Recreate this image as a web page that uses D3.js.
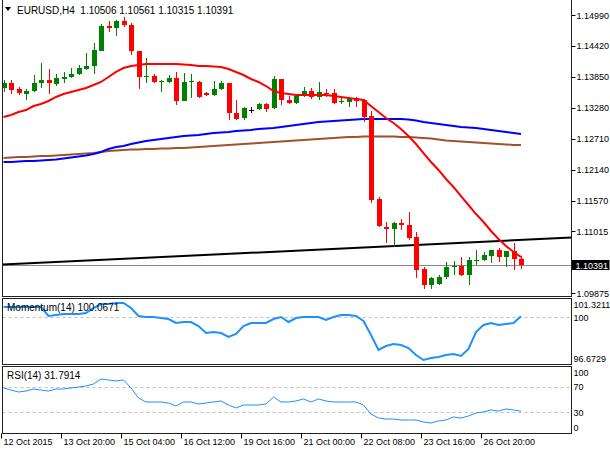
<!DOCTYPE html>
<html><head><meta charset="utf-8">
<script src="https://cdn.jsdelivr.net/npm/d3@7"></script>
<style>
body{margin:0;background:#fff;}
svg{display:block;}
text{font-family:"Liberation Sans",Arial,sans-serif;font-size:9px;fill:#000;}
text.hd{font-size:10px;}
</style>
</head><body><svg id="c" width="610" height="450"></svg>
<script>
// ---------- DATA ----------
const headerText = "EURUSD,H4  1.10506 1.10561 1.10315 1.10391";
const opens = [1.13647,1.13739,1.13629,1.13537,1.13592,1.13739,1.13794,1.13721,1.13813,1.13850,
1.13905,1.13997,1.14052,1.14328,1.14788,1.14751,1.14880,1.14806,1.14328,1.13850,
1.13868,1.13758,1.13758,1.13831,1.13408,1.13758,1.13758,1.13555,1.13518,1.13629,
1.13739,1.13187,1.13095,1.13242,1.13261,1.13353,1.13279,1.13813,1.13426,1.13371,
1.13518,1.13592,1.13482,1.13555,1.13555,1.13390,1.13390,1.13463,1.13426,1.13132,
1.11605,1.11090,1.11053,1.11164,1.11127,1.10906,1.10318,1.10023,1.10042,1.10170,
1.10354,1.10373,1.10207,1.10465,1.10483,1.10557,1.10667,1.10538,1.10649,1.10506];
const highs = [1.13794,1.13794,1.13666,1.13629,1.13886,1.14107,1.13997,1.13905,1.13942,1.14015,
1.14070,1.14291,1.14475,1.14825,1.14880,1.14898,1.14953,1.14843,1.14328,1.14199,
1.13905,1.13794,1.13886,1.13942,1.13923,1.13905,1.13776,1.13574,1.13776,1.13776,
1.13739,1.13426,1.13298,1.13298,1.13371,1.13371,1.13868,1.13813,1.13500,1.13518,
1.13666,1.13647,1.13758,1.13629,1.13629,1.13482,1.13482,1.13482,1.13445,1.13224,
1.11642,1.11182,1.11182,1.11237,1.11366,1.10998,1.10354,1.10170,1.10207,1.10446,
1.10465,1.10538,1.10538,1.10667,1.10630,1.10667,1.10704,1.10649,1.10796,1.10561];
const lows = [1.13574,1.13537,1.13518,1.13426,1.13574,1.13647,1.13537,1.13684,1.13739,1.13831,
1.13886,1.13978,1.13905,1.14328,1.14677,1.14604,1.14769,1.14254,1.13629,1.13739,
1.13739,1.13574,1.13739,1.13334,1.13408,1.13463,1.13463,1.13500,1.13500,1.13610,
1.13058,1.13058,1.13058,1.13187,1.13242,1.13206,1.13261,1.13334,1.13353,1.13353,
1.13482,1.13445,1.13426,1.13482,1.13353,1.13353,1.13298,1.13298,1.13022,1.11532,
1.11090,1.10796,1.10722,1.11035,1.10851,1.10152,1.09950,1.09950,1.10023,1.10134,
1.10207,1.10189,1.10023,1.10391,1.10465,1.10428,1.10446,1.10354,1.10299,1.10315];
const closes = [1.13739,1.13610,1.13555,1.13592,1.13739,1.13794,1.13739,1.13831,1.13850,1.13905,
1.14015,1.14052,1.14346,1.14788,1.14751,1.14880,1.14806,1.14328,1.13850,1.13868,
1.13758,1.13776,1.13831,1.13408,1.13758,1.13776,1.13482,1.13518,1.13629,1.13739,
1.13187,1.13077,1.13279,1.13242,1.13353,1.13261,1.13813,1.13426,1.13371,1.13500,
1.13592,1.13482,1.13574,1.13537,1.13371,1.13408,1.13445,1.13408,1.13114,1.11587,
1.11109,1.11053,1.11164,1.11127,1.10888,1.10299,1.10023,1.10152,1.10170,1.10354,
1.10373,1.10207,1.10483,1.10483,1.10575,1.10667,1.10538,1.10649,1.10501,1.10391];
const maRed = [1.13114,1.13150,1.13206,1.13242,1.13316,1.13353,1.13408,1.13482,1.13537,1.13574,
1.13610,1.13647,1.13702,1.13758,1.13850,1.13942,1.14015,1.14052,1.14070,1.14089,
1.14089,1.14089,1.14089,1.14089,1.14080,1.14070,1.14052,1.14052,1.14043,1.14034,
1.13997,1.13942,1.13886,1.13813,1.13758,1.13684,1.13592,1.13555,1.13537,1.13518,
1.13518,1.13518,1.13518,1.13518,1.13500,1.13482,1.13463,1.13445,1.13426,1.13316,
1.13206,1.13095,1.13003,1.12893,1.12764,1.12617,1.12451,1.12286,1.12139,1.11973,
1.11826,1.11660,1.11495,1.11329,1.11182,1.11017,1.10869,1.10741,1.10630,1.10538];
const maBlue = [1.12286,1.12286,1.12295,1.12304,1.12304,1.12313,1.12323,1.12332,1.12350,1.12369,
1.12387,1.12405,1.12433,1.12470,1.12525,1.12562,1.12580,1.12617,1.12645,1.12672,
1.12691,1.12709,1.12727,1.12746,1.12764,1.12773,1.12783,1.12801,1.12819,1.12829,
1.12838,1.12856,1.12865,1.12875,1.12893,1.12902,1.12911,1.12930,1.12948,1.12967,
1.12985,1.13003,1.13022,1.13031,1.13040,1.13049,1.13058,1.13067,1.13077,1.13077,
1.13077,1.13077,1.13077,1.13077,1.13067,1.13049,1.13022,1.13003,1.12985,1.12967,
1.12948,1.12930,1.12921,1.12911,1.12893,1.12875,1.12856,1.12838,1.12819,1.12801];
const maBrown = [1.12359,1.12369,1.12378,1.12378,1.12387,1.12396,1.12396,1.12405,1.12415,1.12424,
1.12433,1.12442,1.12451,1.12470,1.12488,1.12497,1.12507,1.12516,1.12516,1.12525,
1.12525,1.12534,1.12534,1.12543,1.12543,1.12553,1.12562,1.12571,1.12580,1.12589,
1.12599,1.12608,1.12617,1.12626,1.12635,1.12645,1.12654,1.12663,1.12672,1.12681,
1.12691,1.12700,1.12709,1.12718,1.12727,1.12737,1.12746,1.12746,1.12755,1.12755,
1.12755,1.12755,1.12755,1.12746,1.12746,1.12737,1.12727,1.12718,1.12700,1.12681,
1.12672,1.12663,1.12654,1.12645,1.12635,1.12626,1.12617,1.12608,1.12599,1.12599];
const momentum = [100.740,100.740,100.740,100.740,100.740,100.740,100.086,100.159,100.232,100.232,
100.232,100.304,100.667,100.958,100.958,101.031,101.031,100.667,100.086,100.014,
100.014,99.941,99.869,99.578,99.651,99.651,99.360,98.852,98.924,98.852,
98.561,98.779,99.360,99.578,99.578,99.578,99.869,100.014,99.651,99.941,
100.014,100.014,100.014,99.796,100.014,100.159,100.159,100.086,99.723,98.706,
97.617,97.908,98.053,97.980,97.762,97.254,96.891,97.036,97.109,97.254,
97.327,97.181,97.690,98.924,99.433,99.578,99.433,99.505,99.578,100.0671];
const rsi = [68.0,64.8,61.7,63.3,66.4,64.8,63.3,66.4,66.4,68.0,
69.5,71.1,74.2,82.0,80.5,78.9,80.5,68.0,52.3,46.1,
46.1,46.1,44.5,39.8,46.1,46.1,43.0,44.5,46.1,47.7,
41.4,36.7,41.4,41.4,41.4,43.0,53.9,46.1,46.1,47.7,
50.8,46.1,50.8,47.7,46.1,46.1,46.1,46.1,41.4,27.3,
21.1,19.5,19.5,18.0,18.0,18.0,14.8,13.3,16.4,18.0,
22.7,21.1,24.2,28.9,30.5,33.6,32.0,35.2,33.6,31.7914];
const priceTicks = [1.14990,1.14420,1.13850,1.13280,1.12710,1.12140,1.11570,1.11015,1.09875];
const lastPrice = 1.10391;
const trendBars = [0, 69];
const trendPrices = [1.10400, 1.10851];
const timeTickBars = [0,8,16,24,32,40,48,56,64];
const timeTickLabels = ["12 Oct 2015","13 Oct 20:00","15 Oct 04:00","16 Oct 12:00","19 Oct 16:00","21 Oct 00:00","22 Oct 08:00","23 Oct 16:00","26 Oct 20:00"];
const momMax = 101.3211, momMin = 96.6729, momLevel = 100;
const rsiLevels = [70, 30];
const rsiTickVals = [100, 70, 30, 0];

// ---------- LAYOUT ----------
const svg = d3.select("#c");
const L = 2.5, R = 571.5;
const main = {top: -1, bottom: 296.5};
const mom = {top: 298.5, bottom: 364.5};
const rsiP = {top: 366.5, bottom: 433.5};
const n = closes.length;

const x = d3.scaleLinear().domain([0, n - 1]).range([3.5, 521]);
const y = d3.scaleLinear().domain([1.098208, 1.15266]).range([296, 0]);
const ym = d3.scaleLinear().domain([momMin, momMax]).range([363, 299]);
const yr = d3.scaleLinear().domain([0, 100]).range([431.5, 367.5]);

const defs = svg.append("defs");
function clip(id, p){ defs.append("clipPath").attr("id", id).append("rect")
  .attr("x", L).attr("y", p.top).attr("width", R - L).attr("height", p.bottom - p.top); }
clip("cm", main); clip("cmo", mom); clip("cr", rsiP);

const gMain = svg.append("g").attr("clip-path", "url(#cm)");

// horizontal bid line
gMain.append("line").attr("x1", L).attr("x2", R)
  .attr("y1", Math.round(y(lastPrice)) + 0.5).attr("y2", Math.round(y(lastPrice)) + 0.5)
  .attr("stroke", "#8a8a8a").attr("stroke-width", 1);

// moving averages
const lineGen = (sc) => d3.line().x((d, i) => x(i)).y(d => sc(d));
gMain.append("path").datum(maBrown).attr("d", lineGen(y)).attr("fill", "none")
  .attr("stroke", "#a0522d").attr("stroke-width", 2);
gMain.append("path").datum(maBlue).attr("d", lineGen(y)).attr("fill", "none")
  .attr("stroke", "#0000ff").attr("stroke-width", 2);

// trend line extended to panel edges
const tSlope = (trendPrices[1] - trendPrices[0]) / (trendBars[1] - trendBars[0]);
const bL = x.invert(L), bR = x.invert(R);
gMain.append("line")
  .attr("x1", L).attr("y1", y(trendPrices[0] + tSlope * (bL - trendBars[0])))
  .attr("x2", R).attr("y2", y(trendPrices[0] + tSlope * (bR - trendBars[0])))
  .attr("stroke", "#000").attr("stroke-width", 2);

// candles
const bars = d3.range(n).map(i => ({i, o: opens[i], h: highs[i], l: lows[i], c: closes[i]}));
const colorOf = d => d.c > d.o ? "#008000" : (d.c < d.o ? "#ff0000" : "#000");
const cg = gMain.append("g");
cg.selectAll("line.w").data(bars).join("line")
  .attr("x1", d => Math.round(x(d.i)) + 0.5).attr("x2", d => Math.round(x(d.i)) + 0.5)
  .attr("y1", d => y(d.h)).attr("y2", d => y(d.l))
  .attr("stroke", colorOf).attr("stroke-width", 1);
cg.selectAll("rect.b").data(bars).join("rect")
  .attr("x", d => Math.round(x(d.i)) - 2).attr("width", 5)
  .attr("y", d => Math.min(y(d.o), y(d.c)))
  .attr("height", d => Math.max(1, Math.abs(y(d.o) - y(d.c))))
  .attr("fill", colorOf);

// red MA on top
gMain.append("path").datum(maRed).attr("d", lineGen(y)).attr("fill", "none")
  .attr("stroke", "#ff0000").attr("stroke-width", 2);

// header
svg.append("path").attr("d", "M5,7 L11,7 L8,11 Z").attr("fill", "#000");
svg.append("text").attr("class", "hd").attr("x", 17).attr("y", 13.5).attr("xml:space", "preserve").text(headerText);

// right price axis
const ax = svg.append("g");
ax.selectAll("line").data(priceTicks).join("line")
  .attr("x1", R).attr("x2", R + 4)
  .attr("y1", d => Math.round(y(d)) + 0.5).attr("y2", d => Math.round(y(d)) + 0.5)
  .attr("stroke", "#000");
ax.selectAll("text").data(priceTicks).join("text")
  .attr("x", R + 5).attr("y", d => y(d) + 3.5).text(d => d.toFixed(5));
// last price box
svg.append("rect").attr("x", R).attr("y", y(lastPrice) - 5).attr("width", 38).attr("height", 10).attr("fill", "#000");
svg.append("text").attr("x", R + 4).attr("y", y(lastPrice) + 3.5).style("fill", "#fff").text(lastPrice.toFixed(5));

// ---------- MOMENTUM PANEL ----------
const gMo = svg.append("g").attr("clip-path", "url(#cmo)");
gMo.append("line").attr("x1", L).attr("x2", R).attr("y1", Math.round(ym(momLevel)) + 0.5).attr("y2", Math.round(ym(momLevel)) + 0.5)
  .attr("stroke", "#c0c0c0").attr("stroke-dasharray", "3,3");
svg.append("text").attr("class", "hd").attr("x", 7).attr("y", 310.5).text("Momentum(14) " + momentum[n - 1].toFixed(4));
gMo.append("path").datum(momentum).attr("d", lineGen(ym)).attr("fill", "none")
  .attr("stroke", "#1e90ff").attr("stroke-width", 2);
svg.append("text").attr("x", R + 2).attr("y", ym(momMax) + 9).text(momMax.toFixed(4));
svg.append("text").attr("x", R + 2).attr("y", ym(momLevel) + 3.5).text(String(momLevel));
svg.append("text").attr("x", R + 2).attr("y", ym(momMin) - 1).text(momMin.toFixed(4));

// ---------- RSI PANEL ----------
const gR = svg.append("g").attr("clip-path", "url(#cr)");
gR.selectAll("line").data(rsiLevels).join("line")
  .attr("x1", L).attr("x2", R).attr("y1", d => Math.round(yr(d)) + 0.5).attr("y2", d => Math.round(yr(d)) + 0.5)
  .attr("stroke", "#c0c0c0").attr("stroke-dasharray", "3,3");
gR.append("path").datum(rsi).attr("d", lineGen(yr)).attr("fill", "none")
  .attr("stroke", "#1e90ff").attr("stroke-width", 1);
svg.append("text").attr("class", "hd").attr("x", 7).attr("y", 378.5).text("RSI(14) " + rsi[n - 1].toFixed(4));
svg.selectAll("text.rt").data(rsiTickVals).join("text").attr("class", "rt")
  .attr("x", R + 2)
  .attr("y", d => d === 100 ? yr(d) + 8 : (d === 0 ? yr(d) - 1 : yr(d) + 3.5))
  .text(d => String(d));

// ---------- PANEL BORDERS ----------
[[main.top, main.bottom], [mom.top, mom.bottom], [rsiP.top, rsiP.bottom]].forEach(([t, b]) => {
  svg.append("rect").attr("x", L).attr("y", t).attr("width", R - L).attr("height", b - t)
    .attr("fill", "none").attr("stroke", "#202020").attr("stroke-width", 1);
});

// ---------- TIME AXIS ----------
const tg = svg.append("g");
timeTickBars.forEach((b, k) => {
  const tx = Math.round(x(b) - 2.5) + 0.5;
  tg.append("line").attr("x1", tx).attr("x2", tx).attr("y1", rsiP.bottom).attr("y2", rsiP.bottom + 5).attr("stroke", "#000");
  tg.append("text").attr("x", tx + 2).attr("y", 445).text(timeTickLabels[k]);
});
</script>
</body></html>
